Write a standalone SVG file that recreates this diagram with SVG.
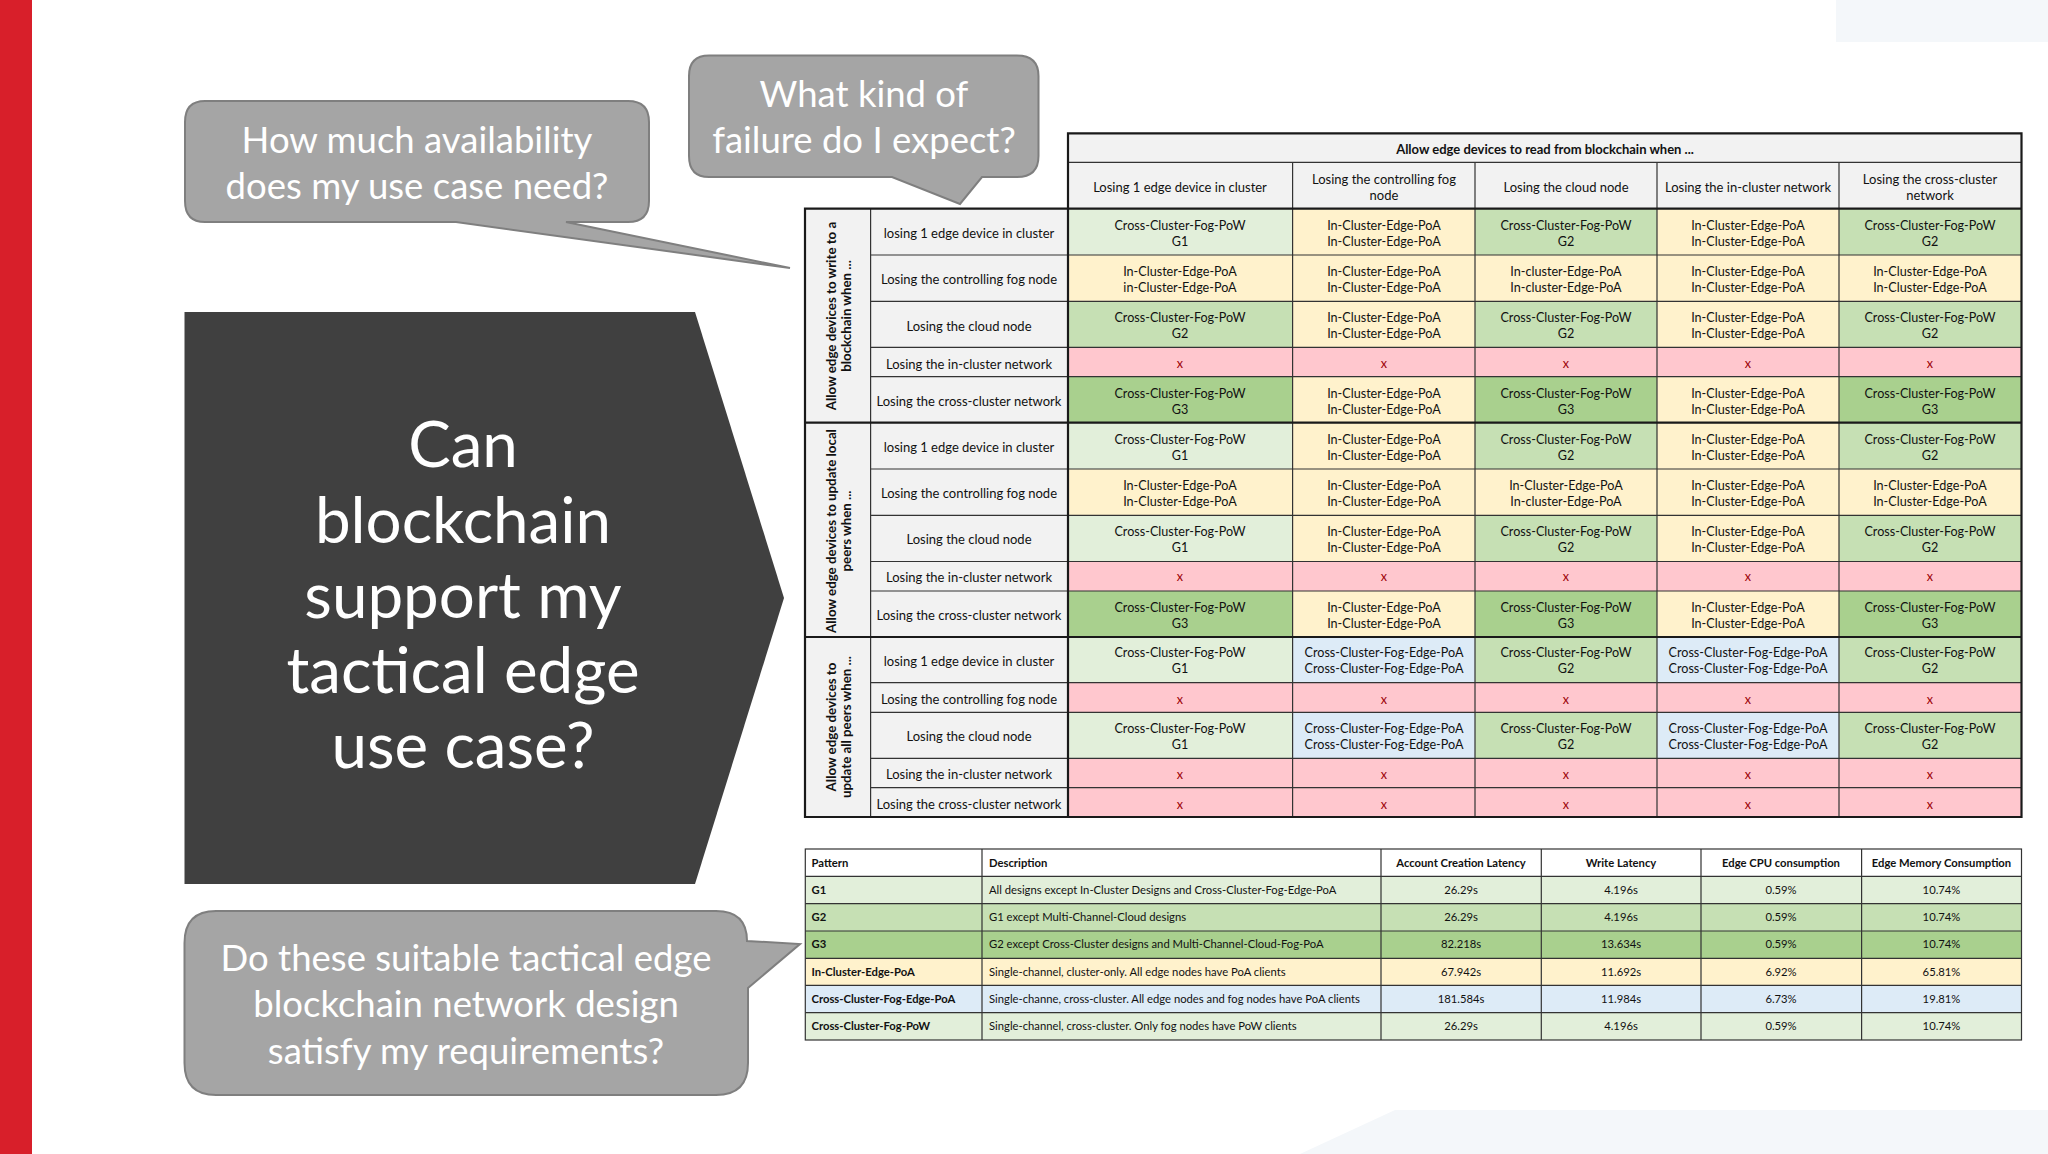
<svg xmlns="http://www.w3.org/2000/svg" width="2048" height="1154" viewBox="0 0 2048 1154">
<style>
text{font-family:Lato,"Open Sans",sans-serif;fill:#111;font-size:12.6px;text-anchor:middle}
.g1{fill:#e2efda}.g2{fill:#c6e0b4}.g3{fill:#a9d08e}.y{fill:#fff2cc}.r{fill:#ffc7ce}.b{fill:#ddebf7}.h{fill:#f2f2f2}.w{fill:#fff}
.x{fill:#9c0006}
.m{font-size:13px}
.v{font-size:13.3px;font-weight:700}
.bd{font-weight:700}.s{font-size:11.25px}.l{text-anchor:start}
.call{fill:#a5a5a5;stroke:#7f7f7f;stroke-width:2}
.ct{fill:#fff;font-size:36.5px}
.tt{fill:#fff;font-size:63.7px}
.ln{stroke:#333;stroke-width:1.2;fill:none}
.th{stroke:#1a1a1a;stroke-width:2.2;fill:none}
</style>
<rect width="2048" height="1154" fill="#fff"/>
<g id="background">
<rect x="0" y="0" width="32" height="1154" fill="#d81f2a"/>
<rect x="1836" y="0" width="212" height="42" fill="#f4f7fa"/>
<path d="M1395 1110H2048V1154H1300Z" fill="#f4f7fa"/>
</g>
<g id="title">
<path d="M184.500 312H695L784 598L695 884H184.500Z" fill="#404040"/>
<text class="tt" x="463" y="467">Can</text>
<text class="tt" x="463" y="543">blockchain</text>
<text class="tt" x="463" y="618">support my</text>
<text class="tt" x="463" y="693">tactical edge</text>
<text class="tt" x="463" y="768">use case?</text>
</g>
<g id="callout-availability">
<path class="call" d="M205 101H628Q649 101 649 122V201Q649 222 628 222H566L790 268L456 222H205Q185 222 185 201V122Q185 101 205 101Z"/>
<text class="ct" x="417" y="153">How much availability</text>
<text class="ct" x="417" y="199">does my use case need?</text>
</g>
<g id="callout-failure">
<path class="call" d="M709 55.500H1017Q1038.500 55.500 1038.500 76V156Q1038.500 177 1017 177H982L960 204L892 177H709Q689 177 689 156V76Q689 55.500 709 55.500Z"/>
<text class="ct" x="864" y="107">What kind of</text>
<text class="ct" x="864" y="153">failure do I expect?</text>
</g>
<g id="callout-design">
<path class="call" d="M216 911H716Q747 911 747 941L800 944L748 988V1063Q748 1095 716 1095H216Q184.500 1095 184.500 1063V943Q184.500 911 216 911Z"/>
<text class="ct" x="466" y="971">Do these suitable tactical edge</text>
<text class="ct" x="466" y="1017">blockchain network design</text>
<text class="ct" x="466" y="1064">satisfy my requirements?</text>
</g>
<g id="availability-table">
<g id="table-header">
<rect class="h" x="1068" y="133.300" width="953.500" height="75.400"/>
<text class="bd m" x="1545" y="154">Allow edge devices to read from blockchain when ...</text>
<text class="m" x="1180" y="192">Losing 1 edge device in cluster</text>
<text class="m" x="1384" y="184">Losing the controlling fog</text><text class="m" x="1384" y="200">node</text>
<text class="m" x="1566" y="192">Losing the cloud node</text>
<text class="m" x="1748" y="192">Losing the in-cluster network</text>
<text class="m" x="1930" y="184">Losing the cross-cluster</text><text class="m" x="1930" y="200">network</text>
</g>
<g id="row-labels">
<rect class="h" x="805" y="208.700" width="263" height="608.300"/>
<text class="v" transform="translate(836 316) rotate(-90)">Allow edge devices to write to a</text>
<text class="v" transform="translate(851 316) rotate(-90)">blockchain when ...</text>
<text class="v" transform="translate(836 531) rotate(-90)">Allow edge devices to update local</text>
<text class="v" transform="translate(851 531) rotate(-90)">peers when ...</text>
<text class="v" transform="translate(836 727) rotate(-90)">Allow edge devices to</text>
<text class="v" transform="translate(851 727) rotate(-90)">update all peers when ...</text>
<text class="m" x="969" y="238">losing 1 edge device in cluster</text>
<text class="m" x="969" y="284">Losing the controlling fog node</text>
<text class="m" x="969" y="331">Losing the cloud node</text>
<text class="m" x="969" y="369">Losing the in-cluster network</text>
<text class="m" x="969" y="406">Losing the cross-cluster network</text>
<text class="m" x="969" y="452">losing 1 edge device in cluster</text>
<text class="m" x="969" y="498">Losing the controlling fog node</text>
<text class="m" x="969" y="544">Losing the cloud node</text>
<text class="m" x="969" y="582">Losing the in-cluster network</text>
<text class="m" x="969" y="620">Losing the cross-cluster network</text>
<text class="m" x="969" y="666">losing 1 edge device in cluster</text>
<text class="m" x="969" y="704">Losing the controlling fog node</text>
<text class="m" x="969" y="741">Losing the cloud node</text>
<text class="m" x="969" y="779">Losing the in-cluster network</text>
<text class="m" x="969" y="809">Losing the cross-cluster network</text>
</g>
<g id="cells-write">
<rect class="g1" x="1068" y="208.700" width="224.600" height="46.300"/><text x="1180" y="229.500">Cross-Cluster-Fog-PoW</text><text x="1180" y="245.500">G1</text>
<rect class="y" x="1292.600" y="208.700" width="182.400" height="46.300"/><text x="1384" y="229.500">In-Cluster-Edge-PoA</text><text x="1384" y="245.500">In-Cluster-Edge-PoA</text>
<rect class="g2" x="1475" y="208.700" width="182" height="46.300"/><text x="1566" y="229.500">Cross-Cluster-Fog-PoW</text><text x="1566" y="245.500">G2</text>
<rect class="y" x="1657" y="208.700" width="182" height="46.300"/><text x="1748" y="229.500">In-Cluster-Edge-PoA</text><text x="1748" y="245.500">In-Cluster-Edge-PoA</text>
<rect class="g2" x="1839" y="208.700" width="182.500" height="46.300"/><text x="1930" y="229.500">Cross-Cluster-Fog-PoW</text><text x="1930" y="245.500">G2</text>

<rect class="y" x="1068" y="255" width="224.600" height="46.300"/><text x="1180" y="276">In-Cluster-Edge-PoA</text><text x="1180" y="292">in-Cluster-Edge-PoA</text>
<rect class="y" x="1292.600" y="255" width="182.400" height="46.300"/><text x="1384" y="276">In-Cluster-Edge-PoA</text><text x="1384" y="292">In-Cluster-Edge-PoA</text>
<rect class="y" x="1475" y="255" width="182" height="46.300"/><text x="1566" y="276">In-cluster-Edge-PoA</text><text x="1566" y="292">In-cluster-Edge-PoA</text>
<rect class="y" x="1657" y="255" width="182" height="46.300"/><text x="1748" y="276">In-Cluster-Edge-PoA</text><text x="1748" y="292">In-Cluster-Edge-PoA</text>
<rect class="y" x="1839" y="255" width="182.500" height="46.300"/><text x="1930" y="276">In-Cluster-Edge-PoA</text><text x="1930" y="292">In-Cluster-Edge-PoA</text>

<rect class="g2" x="1068" y="301.300" width="224.600" height="46"/><text x="1180" y="322">Cross-Cluster-Fog-PoW</text><text x="1180" y="338">G2</text>
<rect class="y" x="1292.600" y="301.300" width="182.400" height="46"/><text x="1384" y="322">In-Cluster-Edge-PoA</text><text x="1384" y="338">In-Cluster-Edge-PoA</text>
<rect class="g2" x="1475" y="301.300" width="182" height="46"/><text x="1566" y="322">Cross-Cluster-Fog-PoW</text><text x="1566" y="338">G2</text>
<rect class="y" x="1657" y="301.300" width="182" height="46"/><text x="1748" y="322">In-Cluster-Edge-PoA</text><text x="1748" y="338">In-Cluster-Edge-PoA</text>
<rect class="g2" x="1839" y="301.300" width="182.500" height="46"/><text x="1930" y="322">Cross-Cluster-Fog-PoW</text><text x="1930" y="338">G2</text>

<rect class="r" x="1068" y="347.300" width="953.500" height="29.400"/>
<text class="x" x="1180" y="368">x</text><text class="x" x="1384" y="368">x</text><text class="x" x="1566" y="368">x</text><text class="x" x="1748" y="368">x</text><text class="x" x="1930" y="368">x</text>

<rect class="g3" x="1068" y="376.700" width="224.600" height="46"/><text x="1180" y="398">Cross-Cluster-Fog-PoW</text><text x="1180" y="414">G3</text>
<rect class="y" x="1292.600" y="376.700" width="182.400" height="46"/><text x="1384" y="398">In-Cluster-Edge-PoA</text><text x="1384" y="414">In-Cluster-Edge-PoA</text>
<rect class="g3" x="1475" y="376.700" width="182" height="46"/><text x="1566" y="398">Cross-Cluster-Fog-PoW</text><text x="1566" y="414">G3</text>
<rect class="y" x="1657" y="376.700" width="182" height="46"/><text x="1748" y="398">In-Cluster-Edge-PoA</text><text x="1748" y="414">In-Cluster-Edge-PoA</text>
<rect class="g3" x="1839" y="376.700" width="182.500" height="46"/><text x="1930" y="398">Cross-Cluster-Fog-PoW</text><text x="1930" y="414">G3</text>
</g>
<g id="cells-update-local">
<rect class="g1" x="1068" y="422.700" width="224.600" height="46.300"/><text x="1180" y="444">Cross-Cluster-Fog-PoW</text><text x="1180" y="460">G1</text>
<rect class="y" x="1292.600" y="422.700" width="182.400" height="46.300"/><text x="1384" y="444">In-Cluster-Edge-PoA</text><text x="1384" y="460">In-Cluster-Edge-PoA</text>
<rect class="g2" x="1475" y="422.700" width="182" height="46.300"/><text x="1566" y="444">Cross-Cluster-Fog-PoW</text><text x="1566" y="460">G2</text>
<rect class="y" x="1657" y="422.700" width="182" height="46.300"/><text x="1748" y="444">In-Cluster-Edge-PoA</text><text x="1748" y="460">In-Cluster-Edge-PoA</text>
<rect class="g2" x="1839" y="422.700" width="182.500" height="46.300"/><text x="1930" y="444">Cross-Cluster-Fog-PoW</text><text x="1930" y="460">G2</text>

<rect class="y" x="1068" y="469" width="224.600" height="46.300"/><text x="1180" y="490">In-Cluster-Edge-PoA</text><text x="1180" y="506">In-Cluster-Edge-PoA</text>
<rect class="y" x="1292.600" y="469" width="182.400" height="46.300"/><text x="1384" y="490">In-Cluster-Edge-PoA</text><text x="1384" y="506">In-Cluster-Edge-PoA</text>
<rect class="y" x="1475" y="469" width="182" height="46.300"/><text x="1566" y="490">In-Cluster-Edge-PoA</text><text x="1566" y="506">In-cluster-Edge-PoA</text>
<rect class="y" x="1657" y="469" width="182" height="46.300"/><text x="1748" y="490">In-Cluster-Edge-PoA</text><text x="1748" y="506">In-Cluster-Edge-PoA</text>
<rect class="y" x="1839" y="469" width="182.500" height="46.300"/><text x="1930" y="490">In-Cluster-Edge-PoA</text><text x="1930" y="506">In-Cluster-Edge-PoA</text>

<rect class="g1" x="1068" y="515.300" width="224.600" height="46.200"/><text x="1180" y="536">Cross-Cluster-Fog-PoW</text><text x="1180" y="552">G1</text>
<rect class="y" x="1292.600" y="515.300" width="182.400" height="46.200"/><text x="1384" y="536">In-Cluster-Edge-PoA</text><text x="1384" y="552">In-Cluster-Edge-PoA</text>
<rect class="g2" x="1475" y="515.300" width="182" height="46.200"/><text x="1566" y="536">Cross-Cluster-Fog-PoW</text><text x="1566" y="552">G2</text>
<rect class="y" x="1657" y="515.300" width="182" height="46.200"/><text x="1748" y="536">In-Cluster-Edge-PoA</text><text x="1748" y="552">In-Cluster-Edge-PoA</text>
<rect class="g2" x="1839" y="515.300" width="182.500" height="46.200"/><text x="1930" y="536">Cross-Cluster-Fog-PoW</text><text x="1930" y="552">G2</text>

<rect class="r" x="1068" y="561.500" width="953.500" height="29.500"/>
<text class="x" x="1180" y="581">x</text><text class="x" x="1384" y="581">x</text><text class="x" x="1566" y="581">x</text><text class="x" x="1748" y="581">x</text><text class="x" x="1930" y="581">x</text>

<rect class="g3" x="1068" y="591" width="224.600" height="46"/><text x="1180" y="612">Cross-Cluster-Fog-PoW</text><text x="1180" y="628">G3</text>
<rect class="y" x="1292.600" y="591" width="182.400" height="46"/><text x="1384" y="612">In-Cluster-Edge-PoA</text><text x="1384" y="628">In-Cluster-Edge-PoA</text>
<rect class="g3" x="1475" y="591" width="182" height="46"/><text x="1566" y="612">Cross-Cluster-Fog-PoW</text><text x="1566" y="628">G3</text>
<rect class="y" x="1657" y="591" width="182" height="46"/><text x="1748" y="612">In-Cluster-Edge-PoA</text><text x="1748" y="628">In-Cluster-Edge-PoA</text>
<rect class="g3" x="1839" y="591" width="182.500" height="46"/><text x="1930" y="612">Cross-Cluster-Fog-PoW</text><text x="1930" y="628">G3</text>
</g>
<g id="cells-update-all">
<rect class="g1" x="1068" y="637" width="224.600" height="45.700"/><text x="1180" y="657">Cross-Cluster-Fog-PoW</text><text x="1180" y="673">G1</text>
<rect class="b" x="1292.600" y="637" width="182.400" height="45.700"/><text x="1384" y="657">Cross-Cluster-Fog-Edge-PoA</text><text x="1384" y="673">Cross-Cluster-Fog-Edge-PoA</text>
<rect class="g2" x="1475" y="637" width="182" height="45.700"/><text x="1566" y="657">Cross-Cluster-Fog-PoW</text><text x="1566" y="673">G2</text>
<rect class="b" x="1657" y="637" width="182" height="45.700"/><text x="1748" y="657">Cross-Cluster-Fog-Edge-PoA</text><text x="1748" y="673">Cross-Cluster-Fog-Edge-PoA</text>
<rect class="g2" x="1839" y="637" width="182.500" height="45.700"/><text x="1930" y="657">Cross-Cluster-Fog-PoW</text><text x="1930" y="673">G2</text>

<rect class="r" x="1068" y="682.700" width="953.500" height="29.600"/>
<text class="x" x="1180" y="704">x</text><text class="x" x="1384" y="704">x</text><text class="x" x="1566" y="704">x</text><text class="x" x="1748" y="704">x</text><text class="x" x="1930" y="704">x</text>

<rect class="g1" x="1068" y="712.300" width="224.600" height="46"/><text x="1180" y="733">Cross-Cluster-Fog-PoW</text><text x="1180" y="749">G1</text>
<rect class="b" x="1292.600" y="712.300" width="182.400" height="46"/><text x="1384" y="733">Cross-Cluster-Fog-Edge-PoA</text><text x="1384" y="749">Cross-Cluster-Fog-Edge-PoA</text>
<rect class="g2" x="1475" y="712.300" width="182" height="46"/><text x="1566" y="733">Cross-Cluster-Fog-PoW</text><text x="1566" y="749">G2</text>
<rect class="b" x="1657" y="712.300" width="182" height="46"/><text x="1748" y="733">Cross-Cluster-Fog-Edge-PoA</text><text x="1748" y="749">Cross-Cluster-Fog-Edge-PoA</text>
<rect class="g2" x="1839" y="712.300" width="182.500" height="46"/><text x="1930" y="733">Cross-Cluster-Fog-PoW</text><text x="1930" y="749">G2</text>

<rect class="r" x="1068" y="758.300" width="953.500" height="58.700"/>
<text class="x" x="1180" y="779">x</text><text class="x" x="1384" y="779">x</text><text class="x" x="1566" y="779">x</text><text class="x" x="1748" y="779">x</text><text class="x" x="1930" y="779">x</text>
<text class="x" x="1180" y="809">x</text><text class="x" x="1384" y="809">x</text><text class="x" x="1566" y="809">x</text><text class="x" x="1748" y="809">x</text><text class="x" x="1930" y="809">x</text>
</g>
<path class="ln" d="M1068 162.300H2021.500M870.600 255H2021.500M870.600 301.300H2021.500M870.600 347.300H2021.500M870.600 376.700H2021.500M870.600 469H2021.500M870.600 515.300H2021.500M870.600 561.500H2021.500M870.600 591H2021.500M870.600 682.700H2021.500M870.600 712.300H2021.500M870.600 758.300H2021.500M870.600 787.700H2021.500M870.600 208.700V817M1292.600 162.300V817M1475 162.300V817M1657 162.300V817M1839 162.300V817"/>
<path class="th" d="M1068 208.700V133.300H2021.500V817H805V208.700H2021.500M805 422.700H2021.500M805 637H2021.500M1068 208.700V817"/>
</g>
<g id="pattern-table">
<rect class="w" x="805.300" y="849" width="1216.200" height="27.300"/>
<rect class="g1" x="805.300" y="876.300" width="1216.200" height="27.400"/>
<rect class="g2" x="805.300" y="903.700" width="1216.200" height="27.300"/>
<rect class="g3" x="805.300" y="931" width="1216.200" height="27.300"/>
<rect class="y" x="805.300" y="958.300" width="1216.200" height="27"/>
<rect class="b" x="805.300" y="985.300" width="1216.200" height="27.400"/>
<rect class="g1" x="805.300" y="1012.700" width="1216.200" height="27.300"/>
<g class="s">
<text class="s bd l" x="811.500" y="867">Pattern</text><text class="s bd l" x="989" y="867">Description</text><text class="s bd" x="1461" y="867">Account Creation Latency</text><text class="s bd" x="1621" y="867">Write Latency</text><text class="s bd" x="1781" y="867">Edge CPU consumption</text><text class="s bd" x="1941.500" y="867">Edge Memory Consumption</text>
<text class="s bd l" x="811.500" y="894">G1</text><text class="s l" x="989" y="894">All designs except In-Cluster Designs and Cross-Cluster-Fog-Edge-PoA</text><text class="s" x="1461" y="894">26.29s</text><text class="s" x="1621" y="894">4.196s</text><text class="s" x="1781" y="894">0.59%</text><text class="s" x="1941.500" y="894">10.74%</text>
<text class="s bd l" x="811.500" y="921">G2</text><text class="s l" x="989" y="921">G1 except Multi-Channel-Cloud designs</text><text class="s" x="1461" y="921">26.29s</text><text class="s" x="1621" y="921">4.196s</text><text class="s" x="1781" y="921">0.59%</text><text class="s" x="1941.500" y="921">10.74%</text>
<text class="s bd l" x="811.500" y="948">G3</text><text class="s l" x="989" y="948">G2 except Cross-Cluster designs and Multi-Channel-Cloud-Fog-PoA</text><text class="s" x="1461" y="948">82.218s</text><text class="s" x="1621" y="948">13.634s</text><text class="s" x="1781" y="948">0.59%</text><text class="s" x="1941.500" y="948">10.74%</text>
<text class="s bd l" x="811.500" y="976">In-Cluster-Edge-PoA</text><text class="s l" x="989" y="976">Single-channel, cluster-only. All edge nodes have PoA clients</text><text class="s" x="1461" y="976">67.942s</text><text class="s" x="1621" y="976">11.692s</text><text class="s" x="1781" y="976">6.92%</text><text class="s" x="1941.500" y="976">65.81%</text>
<text class="s bd l" x="811.500" y="1003">Cross-Cluster-Fog-Edge-PoA</text><text class="s l" x="989" y="1003">Single-channe, cross-cluster. All edge nodes and fog nodes have PoA clients</text><text class="s" x="1461" y="1003">181.584s</text><text class="s" x="1621" y="1003">11.984s</text><text class="s" x="1781" y="1003">6.73%</text><text class="s" x="1941.500" y="1003">19.81%</text>
<text class="s bd l" x="811.500" y="1030">Cross-Cluster-Fog-PoW</text><text class="s l" x="989" y="1030">Single-channel, cross-cluster. Only fog nodes have PoW clients</text><text class="s" x="1461" y="1030">26.29s</text><text class="s" x="1621" y="1030">4.196s</text><text class="s" x="1781" y="1030">0.59%</text><text class="s" x="1941.500" y="1030">10.74%</text>
</g>
<path class="ln" d="M805.300 876.300H2021.500M805.300 903.700H2021.500M805.300 931H2021.500M805.300 958.300H2021.500M805.300 985.300H2021.500M805.300 1012.700H2021.500M982 849V1040M1381 849V1040M1541.300 849V1040M1701 849V1040M1861.600 849V1040"/>
<rect class="ln" x="805.300" y="849" width="1216.200" height="191"/>
</g>
</svg>
